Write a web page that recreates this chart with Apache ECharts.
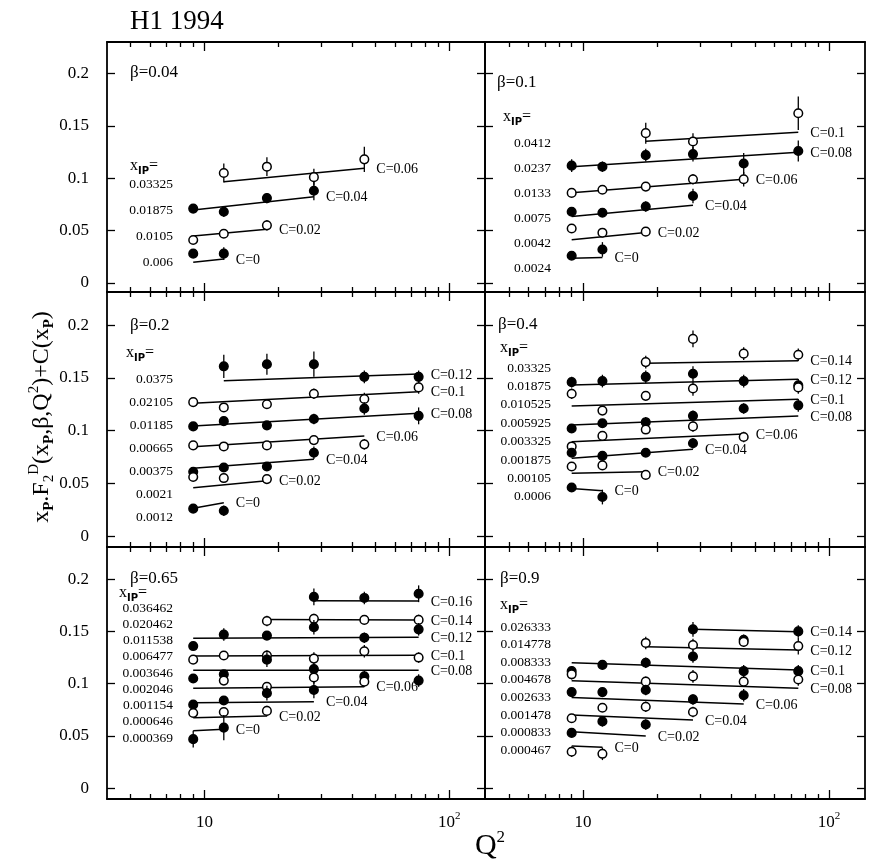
<!DOCTYPE html>
<html>
<head>
<meta charset="utf-8">
<title>H1 1994 xP F2D(3)</title>
<script src="https://cdn.jsdelivr.net/npm/echarts@6/dist/echarts.min.js"></script>
<style>
  html, body { margin: 0; padding: 0; background: #fff; }
  #chart { width: 872px; height: 867px; }
</style>
</head>
<body>
<div id="chart"></div>
<script>
// Q2 bins shared by every panel
var q2Bins = [9, 12, 18, 28, 45, 75];
var betaLabels = ['0.04', '0.1', '0.2', '0.4', '0.65', '0.9'];
var xTickValues = [10, 100];
var xMinorTicks = [5, 6, 7, 8, 9, 20, 30, 40, 50, 60, 70, 80, 90];
var yTickValues = [0, 0.05, 0.1, 0.15, 0.2];

// x_IP values per panel, top to bottom
var xpomLabels = [
    ['0.03325', '0.01875', '0.0105', '0.006'],
    ['0.0412', '0.0237', '0.0133', '0.0075', '0.0042', '0.0024'],
    ['0.0375', '0.02105', '0.01185', '0.00665', '0.00375', '0.0021', '0.0012'],
    ['0.03325', '0.01875', '0.010525', '0.005925', '0.003325', '0.001875', '0.00105', '0.0006'],
    ['0.036462', '0.020462', '0.011538', '0.006477', '0.003646', '0.002046', '0.001154', '0.000646', '0.000369'],
    ['0.026333', '0.014778', '0.008333', '0.004678', '0.002633', '0.001478', '0.000833', '0.000467']
];

// offsets C(x_IP) added to each row
var cOffsets = [
    [0.06, 0.04, 0.02, 0],
    [0.1, 0.08, 0.06, 0.04, 0.02, 0],
    [0.12, 0.1, 0.08, 0.06, 0.04, 0.02, 0],
    [0.14, 0.12, 0.1, 0.08, 0.06, 0.04, 0.02, 0],
    [0.16, 0.14, 0.12, 0.1, 0.08, 0.06, 0.04, 0.02, 0],
    [0.14, 0.12, 0.1, 0.08, 0.06, 0.04, 0.02, 0]
];

// is the top row drawn with open circles (rows alternate open / filled)
var topOpen = [true, true, false, true, false, false];

// measured xP F2D + C at the q2Bins (null = no point)
var pointValues = [
    [
        [null, 0.105, 0.111, 0.101, 0.118, null],
        [0.071, 0.068, 0.081, 0.088, null, null],
        [0.041, 0.047, 0.055, null, null, null],
        [0.028, 0.028, null, null, null, null]
    ],
    [
        [null, null, 0.143, 0.135, null, 0.162],
        [0.112, 0.111, 0.122, 0.123, 0.114, 0.126],
        [0.086, 0.089, 0.092, 0.099, 0.099, null],
        [0.068, 0.067, 0.073, 0.083, null, null],
        [0.052, 0.048, 0.049, null, null, null],
        [0.026, 0.032, null, null, null, null]
    ],
    [
        [null, 0.161, 0.163, 0.163, 0.151, 0.151],
        [0.127, 0.122, 0.125, 0.135, 0.130, 0.141],
        [0.104, 0.109, 0.105, 0.111, 0.121, 0.114],
        [0.086, 0.085, 0.086, 0.091, 0.087, null],
        [0.061, 0.065, 0.066, 0.079, null, null],
        [0.056, 0.055, 0.054, null, null, null],
        [0.026, 0.024, null, null, null, null]
    ],
    [
        [null, null, 0.165, 0.187, 0.173, 0.172],
        [0.146, 0.147, 0.151, 0.154, 0.147, 0.143],
        [0.135, 0.119, 0.133, 0.140, null, 0.141],
        [0.102, 0.107, 0.108, 0.114, 0.121, 0.124],
        [0.085, 0.095, 0.101, 0.104, 0.094, null],
        [0.079, 0.076, 0.079, 0.088, null, null],
        [0.066, 0.067, 0.058, null, null, null],
        [0.046, 0.037, null, null, null, null]
    ],
    [
        [null, null, null, 0.183, 0.182, 0.186],
        [null, null, 0.160, 0.162, 0.161, 0.161],
        [0.136, 0.147, 0.146, 0.154, 0.144, 0.152],
        [0.123, 0.127, 0.127, 0.124, 0.131, 0.125],
        [0.105, 0.109, 0.123, 0.114, 0.107, 0.103],
        [null, 0.103, 0.097, 0.106, 0.102, null],
        [0.080, 0.084, 0.091, 0.094, null, null],
        [0.072, 0.073, 0.074, null, null, null],
        [0.047, 0.058, null, null, null, null]
    ],
    [
        [null, null, null, 0.152, 0.142, 0.150],
        [null, null, 0.139, 0.137, 0.140, 0.136],
        [0.112, 0.118, 0.120, 0.126, 0.112, 0.112],
        [0.109, null, 0.102, 0.107, 0.102, 0.104],
        [0.092, 0.092, 0.094, 0.085, 0.089, null],
        [0.067, 0.077, 0.078, 0.073, null, null],
        [0.053, 0.064, 0.061, null, null, null],
        [0.035, 0.033, null, null, null, null]
    ]
];

// total errors on the points above
var pointErrors = [
    [
        [null, 0.009, 0.009, 0.008, 0.012, null],
        [0.004, 0.005, 0.005, 0.009, null, null],
        [0.003, 0.004, 0.005, null, null, null],
        [0.004, 0.006, null, null, null, null]
    ],
    [
        [null, null, 0.010, 0.008, null, 0.016],
        [0.006, 0.005, 0.006, 0.007, 0.010, 0.010],
        [0.004, 0.004, 0.004, 0.005, 0.007, null],
        [0.004, 0.004, 0.005, 0.007, null, null],
        [0.004, 0.004, 0.004, null, null, null],
        [0.004, 0.007, null, null, null, null]
    ],
    [
        [null, 0.011, 0.010, 0.012, 0.006, 0.006],
        [0.004, 0.004, 0.004, 0.005, 0.006, 0.006],
        [0.004, 0.004, 0.004, 0.005, 0.006, 0.008],
        [0.003, 0.003, 0.003, 0.004, 0.005, null],
        [0.004, 0.004, 0.004, 0.006, null, null],
        [0.004, 0.004, 0.004, null, null, null],
        [0.004, 0.005, null, null, null, null]
    ],
    [
        [null, null, 0.006, 0.008, 0.006, 0.006],
        [0.005, 0.006, 0.006, 0.007, 0.006, 0.006],
        [0.005, 0.004, 0.004, 0.007, null, 0.006],
        [0.004, 0.004, 0.005, 0.005, 0.005, 0.006],
        [0.003, 0.004, 0.004, 0.005, 0.005, null],
        [0.004, 0.004, 0.004, 0.005, null, null],
        [0.004, 0.004, 0.004, null, null, null],
        [0.004, 0.007, null, null, null, null]
    ],
    [
        [null, null, null, 0.008, 0.006, 0.008],
        [null, null, 0.005, 0.005, 0.004, 0.005],
        [0.004, 0.006, 0.004, 0.007, 0.005, 0.006],
        [0.004, 0.004, 0.005, 0.006, 0.006, 0.005],
        [0.004, 0.004, 0.007, 0.005, 0.006, 0.006],
        [null, 0.004, 0.004, 0.006, 0.005, null],
        [0.004, 0.004, 0.007, 0.008, null, null],
        [0.004, 0.004, 0.005, null, null, null],
        [0.008, 0.012, null, null, null, null]
    ],
    [
        [null, null, null, 0.007, 0.005, 0.006],
        [null, null, 0.006, 0.006, 0.005, 0.008],
        [0.005, 0.004, 0.005, 0.006, 0.006, 0.006],
        [0.005, null, 0.005, 0.006, 0.005, 0.006],
        [0.004, 0.004, 0.005, 0.005, 0.006, null],
        [0.004, 0.004, 0.005, 0.005, null, null],
        [0.004, 0.005, 0.005, null, null, null],
        [0.005, 0.006, null, null, null, null]
    ]
];

// fit lines: [Q2 start, value start, Q2 end, value end]
var fitLines = [
    [[12, 0.0967, 45, 0.1094], [9, 0.0697, 28, 0.0824], [9, 0.0449, 18, 0.0512], [9, 0.0197, 12, 0.0229]],
    [[18, 0.1353, 75, 0.1438], [9, 0.1109, 75, 0.1248], [9, 0.0862, 45, 0.0989],
     [9, 0.0634, 28, 0.0741], [9, 0.0412, 18, 0.0482], [9, 0.0235, 12, 0.0244]],
    [[12, 0.1474, 75, 0.1537], [9, 0.1259, 75, 0.1369], [9, 0.1044, 75, 0.1164], [9, 0.0848, 45, 0.0949],
     [9, 0.0642, 28, 0.0728], [9, 0.0459, 18, 0.0525], [9, 0.0263, 12, 0.0316]],
    [[18, 0.1638, 75, 0.1663], [9, 0.1433, 75, 0.1487], [9, 0.1233, 75, 0.1297], [9, 0.1053, 75, 0.1139],
     [9, 0.0895, 45, 0.0968], [9, 0.0737, 28, 0.0823], [9, 0.0596, 18, 0.0611], [9, 0.0452, 12, 0.0429]],
    [[28, 0.1794, 75, 0.1790], [18, 0.1615, 75, 0.1609], [9, 0.1434, 75, 0.1444], [9, 0.1265, 75, 0.1272],
     [9, 0.1128, 75, 0.1128], [9, 0.0956, 45, 0.0971], [9, 0.0818, 28, 0.0828], [9, 0.0675, 18, 0.0691],
     [9, 0.0551, 12, 0.0564]],
    [[28, 0.1520, 75, 0.1497], [18, 0.1354, 75, 0.1322], [9, 0.1201, 75, 0.1131], [9, 0.1029, 75, 0.0956],
     [9, 0.0869, 45, 0.0806], [9, 0.0701, 28, 0.0653], [9, 0.0541, 18, 0.0500], [9, 0.0404, 12, 0.0392]]
];

// ---- layout ----
var SERIF = '"Liberation Serif", "DejaVu Serif", serif';
var cols = [{ left: 107, width: 378 }, { left: 485, width: 380 }];
var rows = [
    { top: 42, height: 250, min: -0.0086, max: 0.2300 },
    { top: 292, height: 255, min: -0.0104, max: 0.2315 },
    { top: 547, height: 252, min: -0.0102, max: 0.2307 }
];
var panelText = [
    { betaDx: 23, betaDy: 31, xipDx: 23, xipDy: 124, listDy: 142, step: 26 },
    { betaDx: 12, betaDy: 41, xipDx: 18, xipDy: 75, listDy: 101, step: 25.1 },
    { betaDx: 23, betaDy: 34, xipDx: 19, xipDy: 61, listDy: 87, step: 23 },
    { betaDx: 13, betaDy: 33, xipDx: 15, xipDy: 56, listDy: 76, step: 18.4 },
    { betaDx: 23, betaDy: 32, xipDx: 12, xipDy: 46, listDy: 61, step: 16.25 },
    { betaDx: 15, betaDy: 32, xipDx: 15, xipDy: 58, listDy: 80, step: 17.6 }
];

function qAxis(gi, pos, ticks, len, showLine, showLabels) {
    return {
        gridIndex: gi, type: 'log', logBase: 10, min: 4, max: 140, position: pos,
        axisLine: { show: showLine, onZero: false, lineStyle: { color: '#000', width: 1.8 } },
        axisTick: { show: true, inside: true, length: len, customValues: ticks,
                    lineStyle: { color: '#000', width: 1.3 } },
        axisLabel: {
            show: showLabels, customValues: ticks, margin: 12, color: '#000',
            formatter: function (v) { return v > 50 ? '{n|10}{s|2}' : '{n|10}'; },
            rich: {
                n: { fontFamily: SERIF, fontSize: 17, color: '#000', lineHeight: 24 },
                s: { fontFamily: SERIF, fontSize: 11, color: '#000', lineHeight: 12, verticalAlign: 'top' }
            }
        },
        splitLine: { show: false }
    };
}

function fAxis(gi, pos, row, showLabels) {
    return {
        gridIndex: gi, type: 'value', position: pos, min: row.min, max: row.max,
        axisLine: { show: true, onZero: false, lineStyle: { color: '#000', width: 1.8 } },
        axisTick: { show: true, inside: true, length: 8, customValues: yTickValues,
                    lineStyle: { color: '#000', width: 1.3 } },
        axisLabel: { show: showLabels, customValues: yTickValues, margin: 18, color: '#000',
                     fontFamily: SERIF, fontSize: 17 },
        splitLine: { show: false }
    };
}

function renderPoints(params, api) {
    var q = api.value(0), v = api.value(1), e = api.value(2), filled = api.value(3);
    var c = api.coord([q, v]);
    var hi = api.coord([q, v + e]);
    var lo = api.coord([q, v - e]);
    return {
        type: 'group',
        children: [
            { type: 'line', shape: { x1: c[0], y1: hi[1], x2: c[0], y2: lo[1] },
              style: { stroke: '#000', lineWidth: 1.3 } },
            { type: 'circle', shape: { cx: c[0], cy: c[1], r: 4.3 },
              style: { fill: filled ? '#000' : '#fff', stroke: '#000', lineWidth: 1.5 } }
        ]
    };
}

function makeFitRenderer(labels) {
    return function (params, api) {
        var a = api.coord([api.value(0), api.value(1)]);
        var b = api.coord([api.value(2), api.value(3)]);
        return {
            type: 'group',
            children: [
                { type: 'line', shape: { x1: a[0], y1: a[1], x2: b[0], y2: b[1] },
                  style: { stroke: '#000', lineWidth: 1.5 } },
                { type: 'text', x: b[0] + 12, y: b[1] + 1,
                  style: { text: 'C=' + labels[params.dataIndex], font: '14px ' + SERIF,
                           fill: '#000', align: 'left', verticalAlign: 'middle' } }
            ]
        };
    };
}

var grids = [], xAxes = [], yAxes = [], series = [], graphics = [];

for (var p = 0; p < 6; p++) {
    var col = cols[p % 2], row = rows[Math.floor(p / 2)], lay = panelText[p];
    var isBottom = Math.floor(p / 2) === 2, isLeft = p % 2 === 0;
    grids.push({ left: col.left, top: row.top, width: col.width, height: row.height });

    var xi = xAxes.length;
    xAxes.push(qAxis(p, 'bottom', xTickValues, 9, true, isBottom));
    xAxes.push(qAxis(p, 'bottom', xMinorTicks, 5, false, false));
    xAxes.push(qAxis(p, 'top', xTickValues, 9, true, false));
    xAxes.push(qAxis(p, 'top', xMinorTicks, 5, false, false));
    var yi = yAxes.length;
    yAxes.push(fAxis(p, 'left', row, isLeft));
    yAxes.push(fAxis(p, 'right', row, false));

    series.push({
        type: 'custom', xAxisIndex: xi, yAxisIndex: yi, z: 2, silent: true,
        renderItem: makeFitRenderer(cOffsets[p]),
        data: fitLines[p]
    });

    var pts = [];
    pointValues[p].forEach(function (rowVals, r) {
        var filled = (r % 2 === 0) !== topOpen[p] ? 1 : 0;
        rowVals.forEach(function (v, b) {
            if (v !== null) pts.push([q2Bins[b], v, pointErrors[p][r][b], filled]);
        });
    });
    series.push({
        type: 'custom', xAxisIndex: xi, yAxisIndex: yi, z: 3, silent: true,
        renderItem: renderPoints, data: pts
    });

    // panel annotations
    graphics.push({
        type: 'text', x: col.left + lay.betaDx, y: row.top + lay.betaDy,
        style: { text: 'β=' + betaLabels[p], font: '17px ' + SERIF, fill: '#000',
                 align: 'left', verticalAlign: 'middle' }
    });
    graphics.push({
        type: 'text', x: col.left + lay.xipDx, y: row.top + lay.xipDy,
        style: {
            text: '{m|x}{s|IP}{m|=}', align: 'left', verticalAlign: 'middle',
            rich: {
                m: { fontFamily: SERIF, fontSize: 16, fill: '#000', lineHeight: 20 },
                s: { fontFamily: '"DejaVu Sans", sans-serif', fontWeight: 'bold', fontSize: 10,
                     fill: '#000', lineHeight: 10, verticalAlign: 'bottom' }
            }
        }
    });
    xpomLabels[p].forEach(function (lbl, k) {
        graphics.push({
            type: 'text', x: col.left + 66, y: row.top + lay.listDy + k * lay.step,
            style: { text: lbl, font: '13.5px ' + SERIF, fill: '#000',
                     align: 'right', verticalAlign: 'middle' }
        });
    });
}

// figure labels
graphics.push({
    type: 'text', x: 130, y: 22,
    style: { text: 'H1 1994', font: '27px ' + SERIF, fill: '#000', align: 'left', verticalAlign: 'middle' }
});
graphics.push({
    type: 'text', x: 490, y: 846,
    style: {
        text: '{m|Q}{s|2}', align: 'center', verticalAlign: 'middle',
        rich: {
            m: { fontFamily: SERIF, fontSize: 30, fill: '#000', lineHeight: 34 },
            s: { fontFamily: SERIF, fontSize: 17, fill: '#000', lineHeight: 16, verticalAlign: 'top' }
        }
    }
});
graphics.push({
    type: 'text', x: 42, y: 417, rotation: Math.PI / 2,
    style: {
        text: '{m|x}{pb|P}{m|.F}{sb|2}{sp|D}{m|(x}{pb|P}{m|,β,Q}{sp|2}{m|)+C(x}{pb|P}{m|)}',
        align: 'center', verticalAlign: 'middle',
        rich: {
            m: { fontFamily: SERIF, fontSize: 24, fill: '#000', lineHeight: 30 },
            pb: { fontFamily: SERIF, fontSize: 15, fontWeight: 'bold', fill: '#000', lineHeight: 13, verticalAlign: 'bottom' },
            sb: { fontFamily: SERIF, fontSize: 15, fill: '#000', lineHeight: 13, verticalAlign: 'bottom' },
            sp: { fontFamily: SERIF, fontSize: 15, fill: '#000', lineHeight: 13, verticalAlign: 'top' }
        }
    }
});

var chart = echarts.init(document.getElementById('chart'), null, { renderer: 'canvas' });
chart.setOption({
    animation: false,
    backgroundColor: '#fff',
    grid: grids,
    xAxis: xAxes,
    yAxis: yAxes,
    series: series,
    graphic: graphics
});
</script>
</body>
</html>
